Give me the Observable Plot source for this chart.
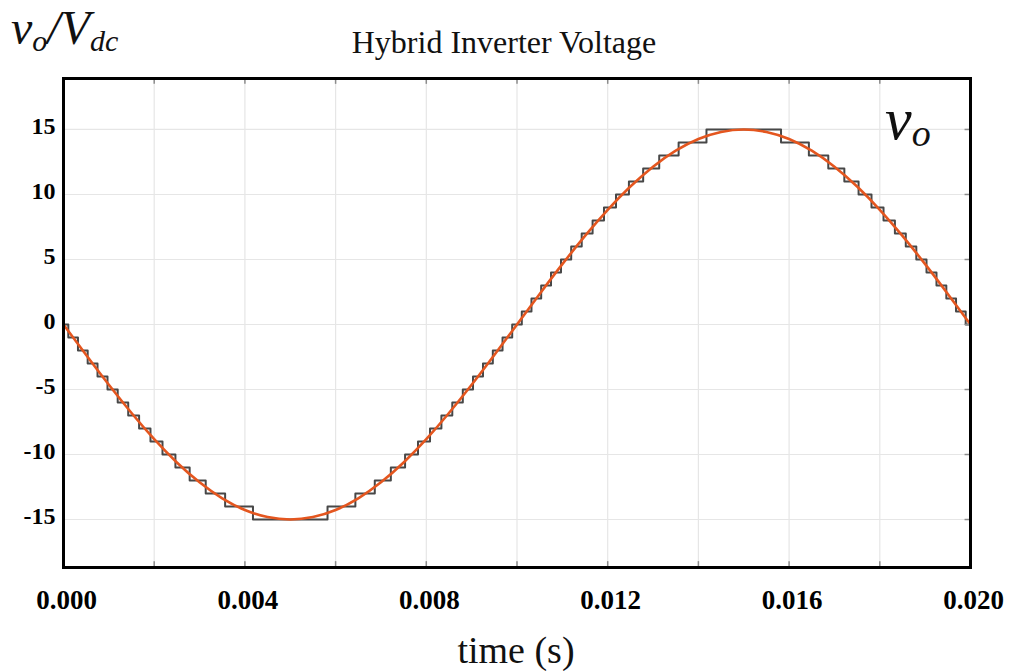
<!DOCTYPE html>
<html>
<head>
<meta charset="utf-8">
<script src="https://cdn.jsdelivr.net/npm/d3@7"></script>
<script src="https://cdn.jsdelivr.net/npm/@observablehq/plot@0.6"></script>
<style>
  html, body { margin: 0; padding: 0; background: #fff; }
  #chart svg { display: block; }
</style>
</head>
<body>
<div id="chart"></div>
<script>
// Reference sine (orange) sampled every 0.5 ms
const sineTime = [0, 0.0005, 0.001, 0.0015, 0.002, 0.0025, 0.003, 0.0035, 0.004, 0.0045,
  0.005, 0.0055, 0.006, 0.0065, 0.007, 0.0075, 0.008, 0.0085, 0.009, 0.0095,
  0.010, 0.0105, 0.011, 0.0115, 0.012, 0.0125, 0.013, 0.0135, 0.014, 0.0145,
  0.015, 0.0155, 0.016, 0.0165, 0.017, 0.0175, 0.018, 0.0185, 0.019, 0.0195, 0.020];
const sineValue = [0, -2.35, -4.64, -6.81, -8.82, -10.61, -12.14, -13.37, -14.27, -14.81,
  -15, -14.81, -14.27, -13.37, -12.14, -10.61, -8.82, -6.81, -4.64, -2.35,
  0, 2.35, 4.64, 6.81, 8.82, 10.61, 12.14, 13.37, 14.27, 14.81,
  15, 14.81, 14.27, 13.37, 12.14, 10.61, 8.82, 6.81, 4.64, 2.35, 0];

// Staircase (hybrid inverter levels): time where each level starts
const stepTime = [0, 0.000106, 0.000319, 0.000533, 0.000750, 0.000970, 0.001195, 0.001427, 0.001667,
  0.001918, 0.002183, 0.002468, 0.002782, 0.003136, 0.003564, 0.004178,
  0.005822, 0.006436, 0.006864, 0.007218, 0.007532, 0.007817, 0.008082, 0.008333,
  0.008573, 0.008805, 0.009030, 0.009250, 0.009467, 0.009681, 0.009894,
  0.010106, 0.010319, 0.010533, 0.010750, 0.010970, 0.011195, 0.011427, 0.011667,
  0.011918, 0.012183, 0.012468, 0.012782, 0.013136, 0.013564, 0.014178,
  0.015822, 0.016436, 0.016864, 0.017218, 0.017532, 0.017817, 0.018082, 0.018333,
  0.018573, 0.018805, 0.019030, 0.019250, 0.019467, 0.019681, 0.019894, 0.020000];
const stepLevel = [0, -1, -2, -3, -4, -5, -6, -7, -8, -9, -10, -11, -12, -13, -14, -15,
  -14, -13, -12, -11, -10, -9, -8, -7, -6, -5, -4, -3, -2, -1, 0,
  1, 2, 3, 4, 5, 6, 7, 8, 9, 10, 11, 12, 13, 14, 15,
  14, 13, 12, 11, 10, 9, 8, 7, 6, 5, 4, 3, 2, 1, 0, 0];

const xTicks = [0, 0.004, 0.008, 0.012, 0.016, 0.020];
const xGrid = [0.002, 0.004, 0.006, 0.008, 0.010, 0.012, 0.014, 0.016, 0.018];
const yTicks = [-15, -10, -5, 0, 5, 10, 15];

const titleText = "Hybrid Inverter Voltage";
const xLabelText = "time (s)";

const sineData = sineTime.map((t, i) => ({t, v: sineValue[i]}));
const stepData = stepTime.map((t, i) => ({t, v: stepLevel[i]}));

const yMin = -18.69, yMax = 18.92;
const serif = "'Liberation Serif', 'Times New Roman', serif";

const chart = Plot.plot({
  width: 1014,
  height: 671,
  marginLeft: 63,
  marginRight: 44,
  marginTop: 78,
  marginBottom: 104,
  style: {fontFamily: serif, background: "#fff", color: "#000"},
  x: {domain: [0, 0.02]},
  y: {domain: [yMin, yMax]},
  marks: [
    Plot.gridX(xGrid, {stroke: "#e6e6e6", strokeOpacity: 1, strokeWidth: 1.2}),
    Plot.gridY(yTicks, {stroke: "#e6e6e6", strokeOpacity: 1, strokeWidth: 1.2}),
    Plot.line(stepData, {x: "t", y: "v", curve: "step-after", stroke: "#474747", strokeWidth: 2, clip: true}),
    Plot.line(sineData, {x: "t", y: "v", curve: "natural", stroke: "#e4561f", strokeWidth: 2.6, clip: true}),
    Plot.ruleX(xGrid, {y1: yMax, y2: yMax - 0.45, stroke: "#8c8c8c", strokeWidth: 1.5}),
    Plot.ruleX(xGrid, {y1: yMin, y2: yMin + 0.45, stroke: "#8c8c8c", strokeWidth: 1.5}),
    Plot.ruleY(yTicks, {x1: 0.02, x2: 0.02 - 0.00012, stroke: "#8c8c8c", strokeWidth: 1.5}),
    Plot.frame({stroke: "#000", strokeWidth: 3}),
    Plot.axisY(yTicks, {tickSize: 0, tickPadding: 8, fontSize: 24, fontWeight: "bold",
      tickFormat: d => String(d), label: null, dy: -3}),
    Plot.axisX(xTicks, {tickSize: 0, tickPadding: 22, fontSize: 27, fontWeight: "bold",
      tickFormat: d3.format(".3f"), label: null, dx: 3})
  ]
});

document.getElementById("chart").appendChild(chart);

const svg = d3.select(chart);
svg.append("text")
  .attr("x", 504).attr("y", 53)
  .attr("text-anchor", "middle")
  .attr("font-family", serif).attr("font-size", 32)
  .attr("fill", "#111")
  .text(titleText);

svg.append("text")
  .attr("x", 516).attr("y", 663)
  .attr("text-anchor", "middle")
  .attr("font-family", serif).attr("font-size", 38)
  .attr("fill", "#111")
  .text(xLabelText);

// y-axis quantity label v_o / V_dc
const yl = svg.append("text")
  .attr("x", 11).attr("y", 44)
  .attr("text-anchor", "start")
  .attr("font-family", serif).attr("font-style", "italic")
  .attr("font-size", 48).attr("fill", "#111");
yl.append("tspan").text("v");
yl.append("tspan").attr("font-size", 30).attr("dy", 7).text("o");
yl.append("tspan").attr("dy", -7).text("/");
yl.append("tspan").text("V");
yl.append("tspan").attr("font-size", 30).attr("dy", 7).text("dc");

// series label inside plot
const sl = svg.append("text")
  .attr("x", 885).attr("y", 139)
  .attr("text-anchor", "start")
  .attr("font-family", serif).attr("font-style", "italic")
  .attr("font-size", 60).attr("fill", "#111");
sl.append("tspan").text("v");
sl.append("tspan").attr("font-size", 38).attr("dy", 7).text("o");
</script>
</body>
</html>
